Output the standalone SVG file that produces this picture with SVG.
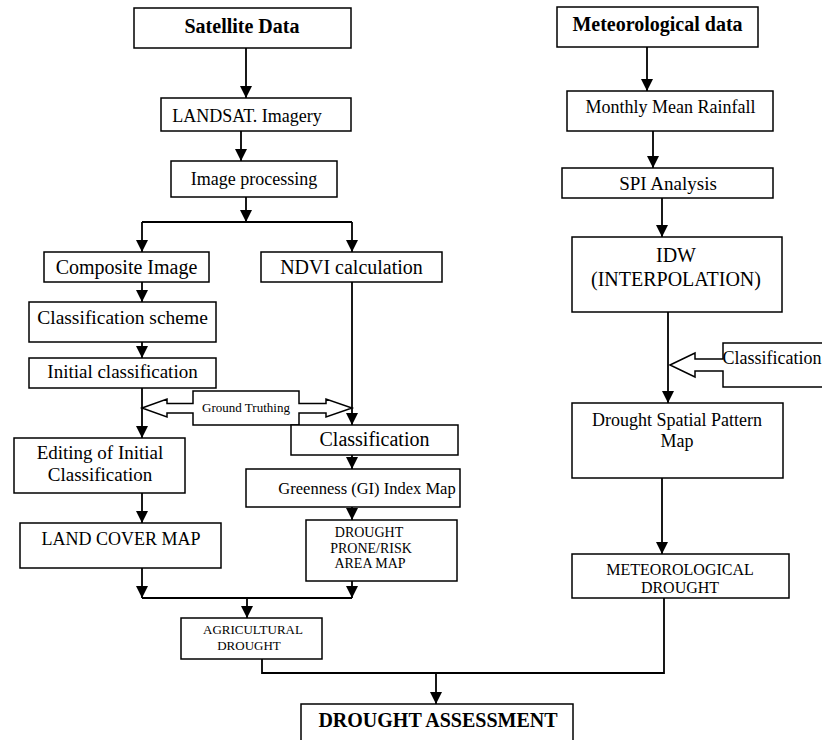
<svg xmlns="http://www.w3.org/2000/svg" width="822" height="740" viewBox="0 0 822 740">
<style>
  .box{fill:#fff;stroke:#000;stroke-width:1.5}
  .t{font-family:"Liberation Serif","Times New Roman",serif;fill:#000;text-anchor:middle}
  .b{font-weight:bold}
  .c{fill:none;stroke:#000;stroke-width:1.8}
</style>
<defs>
  <marker id="ah" markerUnits="userSpaceOnUse" markerWidth="12" markerHeight="14" viewBox="0 0 12 14" refX="12" refY="6" orient="auto">
    <path d="M0,0 L12,6 L0,12 Z" fill="#000"/>
  </marker>
</defs>
<rect width="822" height="740" fill="#fff"/>

<g id="connectors">
  <line class="c" x1="246" y1="48" x2="246" y2="98" marker-end="url(#ah)"/>
  <line class="c" x1="241" y1="131" x2="241" y2="161" marker-end="url(#ah)"/>
  <line class="c" x1="246" y1="197" x2="246" y2="222" marker-end="url(#ah)"/>
  <line class="c" x1="142" y1="222" x2="352" y2="222"/>
  <line class="c" x1="142" y1="222" x2="142" y2="252" marker-end="url(#ah)"/>
  <line class="c" x1="352" y1="222" x2="352" y2="252" marker-end="url(#ah)"/>
  <line class="c" x1="142" y1="282" x2="142" y2="302" marker-end="url(#ah)"/>
  <line class="c" x1="142" y1="342" x2="142" y2="358" marker-end="url(#ah)"/>
  <line class="c" x1="142" y1="388" x2="142" y2="438" marker-end="url(#ah)"/>
  <line class="c" x1="352" y1="282" x2="352" y2="425" marker-end="url(#ah)"/>
  <line class="c" x1="352" y1="455" x2="352" y2="469" marker-end="url(#ah)"/>
  <line class="c" x1="352" y1="507" x2="352" y2="520" marker-end="url(#ah)"/>
  <line class="c" x1="142" y1="493" x2="142" y2="523" marker-end="url(#ah)"/>
  <line class="c" x1="142" y1="568" x2="142" y2="598" marker-end="url(#ah)"/>
  <line class="c" x1="352" y1="581" x2="352" y2="598" marker-end="url(#ah)"/>
  <line class="c" x1="142" y1="598" x2="352" y2="598"/>
  <line class="c" x1="247" y1="598" x2="247" y2="618" marker-end="url(#ah)"/>
  <polyline class="c" points="262,659 262,673 664,673 664,598"/>
  <line class="c" x1="436" y1="673" x2="436" y2="704" marker-end="url(#ah)"/>
  <line class="c" x1="647" y1="47" x2="647" y2="91" marker-end="url(#ah)"/>
  <line class="c" x1="653" y1="131" x2="653" y2="168" marker-end="url(#ah)"/>
  <line class="c" x1="662" y1="198" x2="662" y2="237" marker-end="url(#ah)"/>
  <line class="c" x1="668" y1="312" x2="668" y2="403" marker-end="url(#ah)"/>
  <line class="c" x1="662" y1="478" x2="662" y2="554" marker-end="url(#ah)"/>
</g>

<g id="satellite-data">
  <rect class="box" x="134" y="8" width="217" height="40"/>
  <text class="t b" x="242" y="33" font-size="20">Satellite Data</text>
</g>
<g id="landsat">
  <rect class="box" x="161" y="98" width="190" height="33"/>
  <text class="t" x="247" y="122" font-size="18">LANDSAT. Imagery</text>
</g>
<g id="image-processing">
  <rect class="box" x="171" y="161" width="166" height="36"/>
  <text class="t" x="254" y="185" font-size="18">Image processing</text>
</g>
<g id="composite-image">
  <rect class="box" x="44" y="252" width="165" height="30"/>
  <text class="t" x="126.5" y="274" font-size="20">Composite Image</text>
</g>
<g id="ndvi">
  <rect class="box" x="261" y="252" width="181" height="30"/>
  <text class="t" x="351.5" y="274" font-size="20">NDVI calculation</text>
</g>
<g id="classification-scheme">
  <rect class="box" x="29" y="302" width="187" height="40"/>
  <text class="t" x="122.5" y="324" font-size="19.5">Classification scheme</text>
</g>
<g id="initial-classification">
  <rect class="box" x="29" y="358" width="187" height="30"/>
  <text class="t" x="122.5" y="378" font-size="19">Initial classification</text>
</g>
<g id="ground-truthing">
  <polygon class="box" points="142,408 167,399 167,403.5 193,403.5 193,391 299,391 299,403.5 326,403.5 326,399 352,408 326,417 326,413 299,413 299,425 193,425 193,413 167,413 167,417"/>
  <text class="t" x="246" y="412" font-size="13">Ground Truthing</text>
</g>
<g id="classification-mid">
  <rect class="box" x="291" y="425" width="167" height="30"/>
  <text class="t" x="374.5" y="446" font-size="20">Classification</text>
</g>
<g id="editing">
  <rect class="box" x="14" y="438" width="171" height="55"/>
  <text class="t" x="100" y="459" font-size="19">Editing of Initial</text>
  <text class="t" x="100" y="481" font-size="19">Classification</text>
</g>
<g id="greenness">
  <rect class="box" x="246" y="469" width="214" height="38"/>
  <text class="t" x="367" y="494" font-size="16.5">Greenness (GI) Index Map</text>
</g>
<g id="land-cover">
  <rect class="box" x="20" y="523" width="201" height="45"/>
  <text class="t" x="121" y="545" font-size="18">LAND COVER MAP</text>
</g>
<g id="drought-prone">
  <rect class="box" x="306" y="520" width="151" height="61"/>
  <text class="t" x="369" y="537" font-size="14">DROUGHT</text>
  <text class="t" x="371" y="553" font-size="14">PRONE/RISK</text>
  <text class="t" x="370" y="568" font-size="14">AREA MAP</text>
</g>
<g id="agricultural-drought">
  <rect class="box" x="181" y="618" width="141" height="41"/>
  <text class="t" x="253" y="634" font-size="13">AGRICULTURAL</text>
  <text class="t" x="249" y="650" font-size="13">DROUGHT</text>
</g>
<g id="drought-assessment">
  <rect class="box" x="301" y="704" width="272" height="40"/>
  <text class="t b" x="438" y="727" font-size="20">DROUGHT ASSESSMENT</text>
</g>
<g id="meteorological-data">
  <rect class="box" x="557" y="7" width="201" height="40"/>
  <text class="t b" x="657.5" y="31" font-size="20">Meteorological data</text>
</g>
<g id="monthly-rainfall">
  <rect class="box" x="567" y="91" width="206" height="40"/>
  <text class="t" x="670.5" y="113" font-size="18">Monthly Mean Rainfall</text>
</g>
<g id="spi">
  <rect class="box" x="562" y="168" width="211" height="30"/>
  <text class="t" x="668" y="190" font-size="19">SPI Analysis</text>
</g>
<g id="idw">
  <rect class="box" x="572" y="237" width="210" height="75"/>
  <text class="t" x="676" y="262" font-size="20">IDW</text>
  <text class="t" x="676" y="286" font-size="20">(INTERPOLATION)</text>
</g>
<g id="classification-right">
  <polygon class="box" points="670,365 695,353 695,359 723,359 723,343 830,343 830,387 723,387 723,371 695,371 695,377"/>
  <text class="t" x="772" y="364" font-size="18">Classification</text>
</g>
<g id="drought-spatial">
  <rect class="box" x="572" y="403" width="211" height="75"/>
  <text class="t" x="677" y="426" font-size="18">Drought Spatial Pattern</text>
  <text class="t" x="677" y="447" font-size="18">Map</text>
</g>
<g id="meteorological-drought">
  <rect class="box" x="572" y="554" width="217" height="44"/>
  <text class="t" x="680" y="575" font-size="16">METEOROLOGICAL</text>
  <text class="t" x="680" y="593" font-size="16">DROUGHT</text>
</g>
</svg>
